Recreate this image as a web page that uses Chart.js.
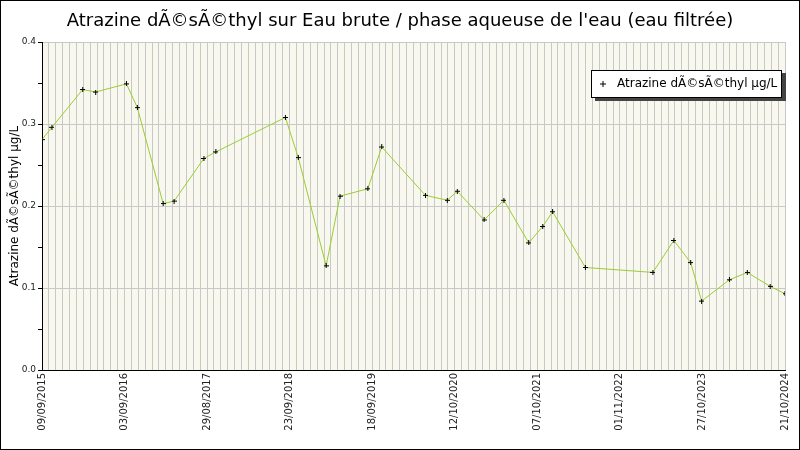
<!DOCTYPE html>
<html><head><meta charset="utf-8">
<script src="https://cdn.jsdelivr.net/npm/chart.js@4/dist/chart.umd.min.js"></script>
<style>body{margin:0;background:#fff}#w{width:800px;height:450px;position:relative;box-sizing:border-box}</style>
</head><body><div id="w"><canvas id="c"></canvas></div>
<script>
const titleText = "Atrazine dÃ©sÃ©thyl sur Eau brute / phase aqueuse de l'eau (eau filtrée)";
const seriesName = "Atrazine dÃ©sÃ©thyl µg/L";
const tickLabels = ["09/09/2015","03/09/2016","29/08/2017","23/09/2018","18/09/2019","12/10/2020","07/10/2021","01/11/2022","27/10/2023","21/10/2024"];
const months = [0,1.44,5.92,7.80,12.27,13.86,17.61,19.20,23.53,25.27,35.38,37.25,41.30,43.32,47.36,49.38,55.74,58.91,60.36,64.26,67.14,70.75,72.78,74.22,78.99,88.80,91.84,94.29,95.88,99.92,102.52,105.84,108];
const values = [0.281,0.296,0.342,0.339,0.349,0.320,0.203,0.206,0.258,0.266,0.308,0.259,0.127,0.212,0.221,0.272,0.213,0.207,0.218,0.183,0.207,0.155,0.175,0.193,0.125,0.119,0.158,0.131,0.084,0.110,0.119,0.102,0.093];

const deco = {
  id:'deco',
  beforeDraw(ch){
    const c=ch.ctx,a=ch.chartArea;
    c.save();c.fillStyle='#fff';c.fillRect(0,0,ch.width,ch.height);
    c.fillStyle='#f8f8ee';c.fillRect(a.left,a.top,a.right-a.left,a.bottom-a.top);c.restore();
  },
  afterDraw(ch){
    const c=ch.ctx;
    c.save();
    c.strokeStyle='#000';c.lineWidth=1;c.strokeRect(0.5,0.5,ch.width-1,ch.height-1);
    c.fillStyle='#000';c.font='18px "DejaVu Sans"';c.textAlign='center';c.textBaseline='middle';
    c.fillText(titleText,400,21);
    c.fillStyle='#444';c.fillRect(595,73,191,28);
    c.fillStyle='#fff';c.fillRect(591,70,191,28);
    c.strokeStyle='#000';c.strokeRect(591.5,70.5,190,27);
    c.beginPath();c.moveTo(600,84);c.lineTo(606,84);c.moveTo(603,81);c.lineTo(603,87);c.stroke();
    c.fillStyle='#000';c.font='12px "DejaVu Sans"';c.textAlign='left';
    c.fillText(seriesName,617,84);
    c.restore();
  }
};
function cross(){const cv=document.createElement('canvas');cv.width=5;cv.height=5;const x=cv.getContext('2d');x.fillStyle='#000';x.fillRect(2,0,1,5);x.fillRect(0,2,5,1);return cv;}
new Chart(document.getElementById('c'),{
  type:'line',
  data:{datasets:[{label:seriesName,data:months.map((m,i)=>({x:m,y:values[i]})),borderColor:'#9acd32',borderWidth:1,pointStyle:cross(),pointRadius:3,tension:0}]},
  options:{responsive:true,maintainAspectRatio:false,animation:false,devicePixelRatio:1,
    layout:{padding:{top:42,left:8,right:10,bottom:5}},
    plugins:{legend:{display:false},tooltip:{enabled:false}},
    scales:{
      x:{type:'linear',min:0,max:108,afterFit:s=>{s.height=75;},
        border:{color:'#000'},
        grid:{color:'#c8c8c8',tickLength:0},
        ticks:{stepSize:1,autoSkip:false,maxRotation:90,minRotation:90,color:'#222',font:{family:'DejaVu Sans',size:10},
          callback:v=>v%12===0?tickLabels[v/12]:''}},
      y:{min:0,max:0.4,afterFit:s=>{s.width=34;},
        border:{color:'#000'},
        grid:{color:c=>Math.round(c.tick.value*100)%10===0?'#c8c8c8':'rgba(0,0,0,0)',tickColor:'#000',tickLength:4},
        title:{display:true,text:seriesName,color:'#000',font:{family:'DejaVu Sans',size:12},padding:0},
        ticks:{stepSize:0.05,color:'#222',font:{family:'DejaVu Sans',size:9},padding:2,
          callback:v=>Math.round(v*100)%10===0?v.toFixed(1):''}}
    }},
  plugins:[deco]
});
</script></body></html>
